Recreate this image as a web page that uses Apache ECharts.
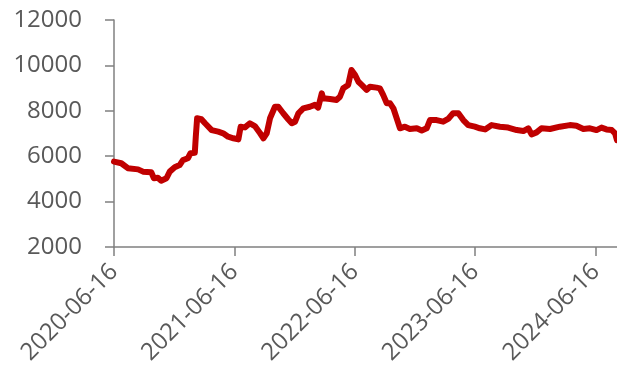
<!DOCTYPE html>
<html>
<head>
<meta charset="utf-8">
<script src="https://cdn.jsdelivr.net/npm/echarts@6/dist/echarts.min.js"></script>
<style>
html,body{margin:0;padding:0;background:#fff;}
#c{width:617px;height:377px;}
</style>
</head>
<body>
<div id="c"></div>
<script>
const dates = [
"2020-06-16","2020-07-08","2020-07-28","2020-08-28","2020-09-12","2020-10-07","2020-10-15","2020-10-27","2020-11-06","2020-11-22",
"2020-12-02","2020-12-17","2021-01-01","2021-01-11","2021-01-26","2021-02-03","2021-02-16","2021-02-19","2021-02-23","2021-03-08",
"2021-03-19","2021-04-08","2021-04-28","2021-05-13","2021-05-28","2021-06-13","2021-06-28","2021-07-05","2021-07-18","2021-08-02",
"2021-08-17","2021-09-02","2021-09-12","2021-09-22","2021-10-02","2021-10-17","2021-10-27","2021-11-11","2021-11-26","2021-12-07",
"2021-12-17","2021-12-27","2022-01-11","2022-01-31","2022-02-15","2022-02-25","2022-03-08","2022-03-12","2022-04-02","2022-04-22",
"2022-05-02","2022-05-12","2022-05-27","2022-06-06","2022-06-17","2022-06-27","2022-07-07","2022-07-22","2022-08-01","2022-08-21",
"2022-08-31","2022-09-10","2022-09-21","2022-10-01","2022-10-11","2022-10-21","2022-10-31","2022-11-15","2022-11-30","2022-12-21",
"2023-01-05","2023-01-20","2023-01-30","2023-02-19","2023-03-11","2023-03-26","2023-04-10","2023-04-26","2023-05-11","2023-05-26",
"2023-06-15","2023-06-30","2023-07-16","2023-08-05","2023-08-30","2023-09-24","2023-10-20","2023-11-09","2023-11-24","2023-12-04",
"2023-12-19","2024-01-03","2024-01-29","2024-02-28","2024-03-29","2024-04-18","2024-05-09","2024-05-29","2024-06-18","2024-07-03",
"2024-07-18","2024-08-03","2024-08-13","2024-08-19"
];
const values = [
5760,5690,5470,5420,5320,5290,5030,5050,4920,5030,
5320,5510,5610,5830,5910,6130,6150,6860,7670,7630,
7450,7150,7080,7010,6860,6790,6740,7300,7270,7450,
7330,7010,6790,7010,7670,8180,8180,7890,7630,7450,
7520,7890,8110,8180,8260,8140,8770,8550,8520,8480,
8620,8990,9140,9800,9580,9280,9140,8920,9060,9020,
8990,8700,8330,8330,8110,7670,7230,7300,7200,7230,
7130,7230,7590,7590,7520,7640,7890,7890,7590,7370,
7300,7230,7180,7370,7300,7260,7150,7110,7230,6960,
7050,7230,7200,7300,7370,7340,7200,7230,7150,7260,
7180,7150,7010,6710
];
const xTickLabels = ["2020-06-16","2021-06-16","2022-06-16","2023-06-16","2024-06-16"];
const yMin = 2000, yMax = 12000, yStep = 2000;

const toTime = s => echarts.time.parse(s).getTime();
const chart = echarts.init(document.getElementById('c'), null, {renderer:'canvas'});
const seriesData = dates.map((d,i)=>[toTime(d), values[i]]);
const tickTimes = xTickLabels.map(toTime);
const fontFam = '"Open Sans", "Noto Sans", sans-serif';
chart.setOption({
  animation:false,
  grid:{left:114,right:0,top:20,bottom:130,containLabel:false,outerBoundsMode:'none'},
  xAxis:{
    type:'value',
    min:toTime(dates[0]),
    max:toTime(dates[dates.length-1]),
    splitLine:{show:false},
    axisLine:{lineStyle:{color:'#808080',width:1.5}},
    axisTick:{show:true,length:9,lineStyle:{color:'#808080',width:1.5},customValues:tickTimes},
    axisLabel:{
      customValues:tickTimes,
      rotate:45,
      margin:21,
      color:'#595959',
      fontSize:24,
      fontFamily:fontFam,
      formatter:function(v){return echarts.time.format(v,'{yyyy}-{MM}-{dd}',false);}
    }
  },
  yAxis:{
    type:'value',
    min:yMin,max:yMax,interval:yStep,
    splitLine:{show:false},
    axisLine:{show:true,lineStyle:{color:'#808080',width:1.5}},
    axisTick:{show:true,length:9,lineStyle:{color:'#808080',width:1.5}},
    axisLabel:{margin:32,color:'#595959',fontSize:24,fontFamily:fontFam,formatter:function(v){return String(v);}}
  },
  series:[{
    type:'line',
    data:seriesData,
    showSymbol:false,
    symbol:'none',
    lineStyle:{color:'#C00000',width:6,join:'round',cap:'round'},
    itemStyle:{color:'#C00000'}
  }]
});
</script>
</body>
</html>
